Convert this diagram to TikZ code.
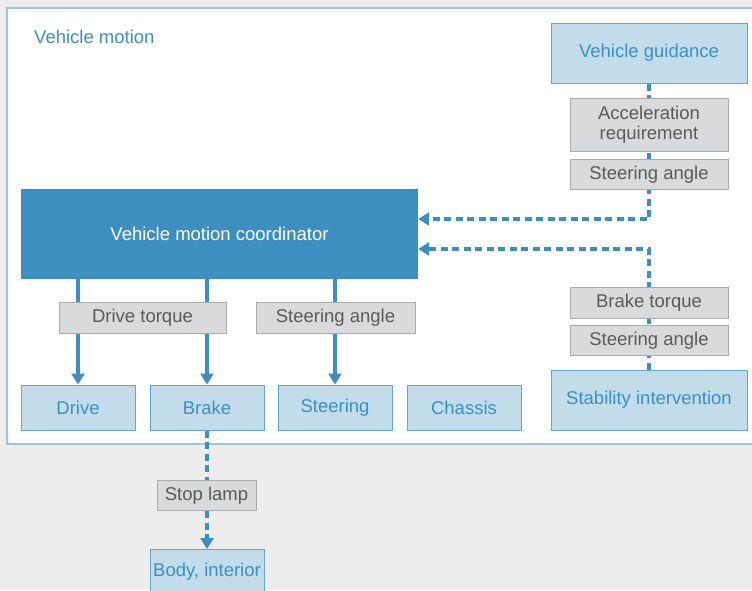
\documentclass[tikz,border=0pt]{standalone}
\usepackage{fontspec}
\setmainfont{Liberation Sans}
\usetikzlibrary{arrows.meta,positioning}
\definecolor{busblue}{HTML}{3D8FC1}
\definecolor{unitfill}{HTML}{C2DCEA}
\definecolor{unitline}{HTML}{62A6D1}
\definecolor{unittext}{HTML}{3B8FC6}
\definecolor{tagfill}{HTML}{D9DADB}
\definecolor{tagline}{HTML}{ABABAB}
\definecolor{tagtext}{HTML}{5A5A5A}
\definecolor{pagegray}{HTML}{ECEDEC}
\definecolor{panelline}{HTML}{9CC6DF}

\begin{document}
\begin{tikzpicture}[x=1pt,y=-1pt,>={Triangle[width=13pt,length=11pt]},
  font=\fontsize{18.5}{20}\selectfont,
  unit/.style={draw=unitline,line width=1pt,fill=unitfill,text=unittext,
    minimum width=114pt,minimum height=45pt,inner sep=0pt},
  tag/.style={draw=tagline,line width=1pt,fill=tagfill,text=tagtext,
    minimum width=158pt,minimum height=30pt,inner sep=0pt,align=center},
  flow/.style={line width=3.5pt,draw=busblue},
  signal/.style={flow,dash pattern=on 7pt off 4.5pt}]
  \useasboundingbox (0,0) rectangle (752,590);
  \fill[pagegray] (0,0) rectangle (752,590);
  \filldraw[fill=white,draw=panelline,line width=1.2pt] (7,8) rectangle (770,444);
  \node[anchor=west,inner sep=0pt,text=unittext] (title) at (34,36.5) {Vehicle motion};

  % main blocks
  \node[fill=busblue,text=white,minimum width=397pt,minimum height=90pt,inner sep=0pt]
    (coord) at (219.5,234) {Vehicle motion coordinator};
  \node[unit,minimum width=196pt,minimum height=60pt] (guid) at (649,53) {Vehicle guidance};
  \node[unit,minimum width=196pt,minimum height=60pt] (stab) at (649,400) {Stability intervention};
  \node[unit] (drive) at (78,407.5) {Drive};
  \node[unit] (brake) at (207,407.5) {Brake};
  \node[unit] (steer) at (335,407.5) {Steering};
  \node[unit] (chassis) at (464,407.5) {Chassis};
  \node[unit] (body) at (207,572) {Body, interior};

  % connectors
  \draw[flow,->] (drive |- coord.south) -- (drive);
  \draw[flow,->] (brake |- coord.south) -- (brake);
  \draw[flow,->] (steer |- coord.south) -- (steer);
  \draw[signal,->] (guid.south) |- ([yshift=15pt]coord.east);
  \draw[signal,->] (stab.north) |- ([yshift=-15pt]coord.east);
  \draw[signal,->] (brake.south) -- (body);

  % signal tags
  \node[tag,minimum height=53pt] (accel) at (649,125) {Acceleration\\requirement};
  \node[tag] (guidsteer) at (649,174.5) {Steering angle};
  \node[tag,minimum height=31pt] (braketq) at (649,303) {Brake torque};
  \node[tag] (stabsteer) at (649,340.5) {Steering angle};
  \node[tag,minimum width=167pt,minimum height=31pt] (drivetq) at (142.5,318) {Drive torque};
  \node[tag,minimum width=159pt,minimum height=31pt] (steerang) at (335.5,318) {Steering angle};
  \node[tag,minimum width=99pt] (stoplamp) at (206.5,495.5) {Stop lamp};
\end{tikzpicture}
\end{document}
